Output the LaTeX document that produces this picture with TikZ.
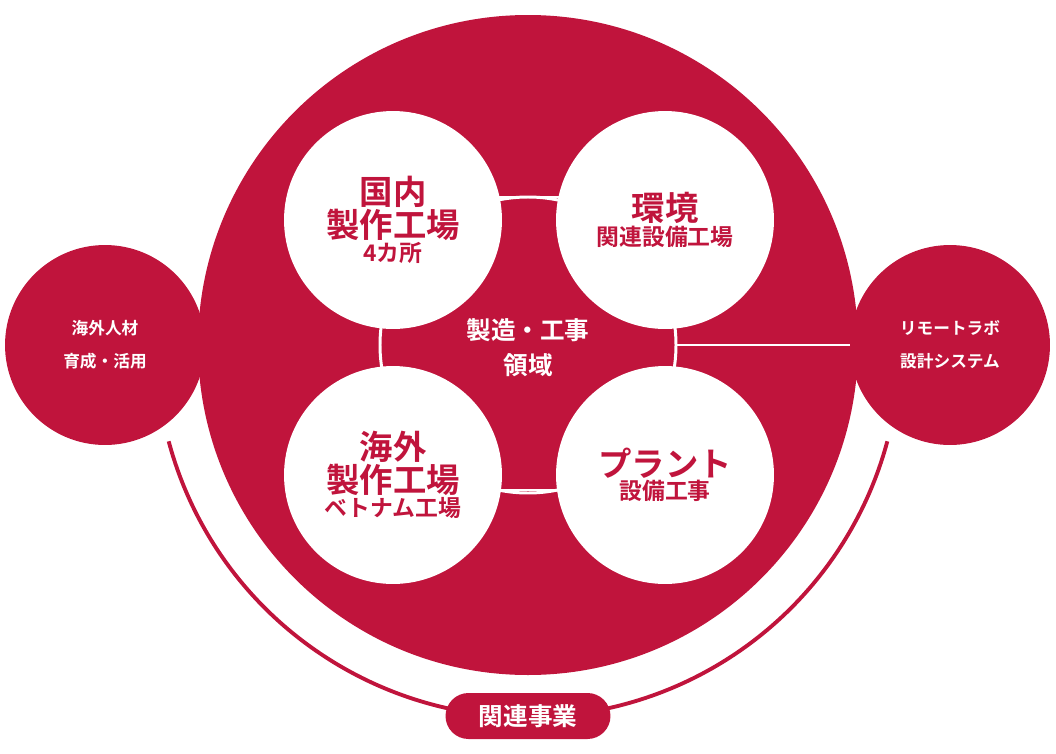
\documentclass[tikz,border=0pt]{standalone}
\usepackage{fontspec}
\newfontfamily\jp{Noto Sans CJK JP}[BoldFont={* Bold}]
\definecolor{crim}{HTML}{C0143C}
\newcommand\bigt[1]{{\fontsize{19}{22}\selectfont #1}}
\newcommand\smallt[1]{{\fontsize{13}{25}\selectfont #1}}
\tikzset{
  hub/.style={circle,fill=white,minimum size=4.36cm,inner sep=0pt,text=crim,font=\jp\bfseries,align=center},
  side/.style={circle,fill=crim,minimum size=4cm,inner sep=0pt,text=white,font=\jp\bfseries\fontsize{9.5}{19}\selectfont,align=center}
}
\begin{document}
\begin{tikzpicture}[x=0.02cm,y=-0.02cm]
\useasboundingbox (0,0) rectangle (1056,754);
% outer arc
\draw[crim,line width=2.2pt] (528,345) ++(165:372) arc[start angle=165,end angle=15,radius=372];
% main disc
\fill[crim] (528,345) circle[radius=330];
\draw[white,line width=1.7pt] (528,345) circle[radius=148];
\node[side] (hr) at (105,345) {海外人材\\育成・活用};
\node[side] (rl) at (950,345) {リモートラボ\\設計システム};
\coordinate (ringr) at (676,345);
\draw[white,line width=1.7pt] (ringr) -- (rl.west);
\draw[white,line width=1.7pt] (450,197) -- (600,197);
\draw[white,line width=1.7pt] (450,490) -- (600,490);
\node[hub] (dom) at (393,220) {\bigt{国内}\\\bigt{製作工場}\\\smallt{4カ所}};
\node[hub] (env) at (665,220) {\bigt{環境}\\\smallt{関連設備工場}};
\node[hub] (ovs) at (393,475) {\bigt{海外}\\\bigt{製作工場}\\\smallt{ベトナム工場}};
\node[hub] (plt) at (665,475) {\bigt{プラント}\\\smallt{設備工事}};
\node[text=white,font=\jp\bfseries\fontsize{14}{20}\selectfont,align=center] (core) at (528,348) {製造・工事\\領域};
\node[rounded corners=0.46cm,fill=crim,minimum width=3.3cm,minimum height=0.92cm,text=white,font=\jp\bfseries\fontsize{14}{16}\selectfont] (rel) at (528,716) {関連事業};
\end{tikzpicture}
\end{document}
